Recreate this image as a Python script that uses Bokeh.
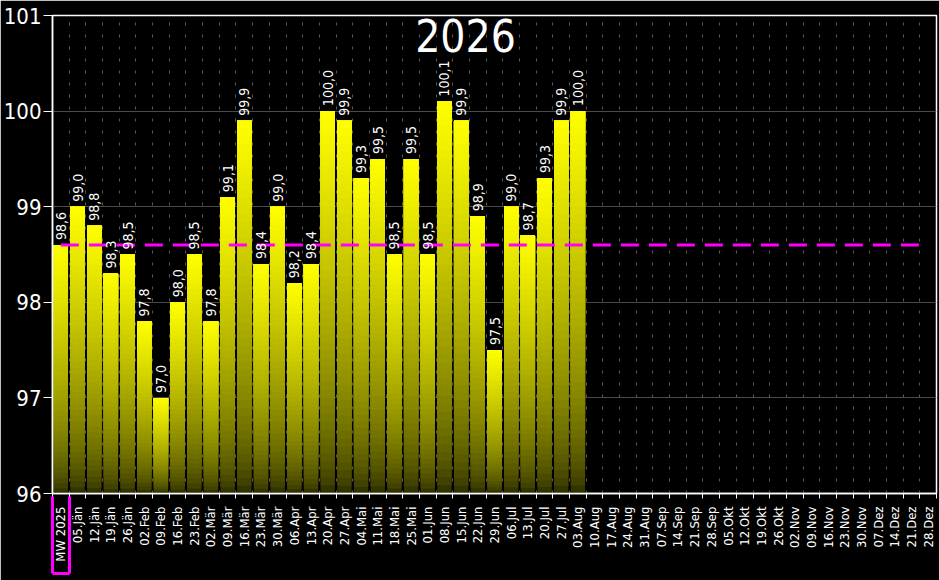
import math
from bokeh.plotting import figure
from bokeh.models import ColumnDataSource, FixedTicker, Range1d, Label, LinearAxis
from bokeh.embed import file_html
from bokeh.resources import INLINE
from bokeh.core.properties import value

# ---------------- data ----------------
title_text = "2026"
week_labels = [
    "MW 2025", "05.Jän", "12.Jän", "19.Jän", "26.Jän", "02.Feb", "09.Feb", "16.Feb", "23.Feb",
    "02.Mär", "09.Mär", "16.Mär", "23.Mär", "30.Mär", "06.Apr", "13.Apr", "20.Apr", "27.Apr",
    "04.Mai", "11.Mai", "18.Mai", "25.Mai", "01.Jun", "08.Jun", "15.Jun", "22.Jun", "29.Jun",
    "06.Jul", "13.Jul", "20.Jul", "27.Jul", "03.Aug", "10.Aug", "17.Aug", "24.Aug", "31.Aug",
    "07.Sep", "14.Sep", "21.Sep", "28.Sep", "05.Okt", "12.Okt", "19.Okt", "26.Okt", "02.Nov",
    "09.Nov", "16.Nov", "23.Nov", "30.Nov", "07.Dez", "14.Dez", "21.Dez", "28.Dez",
]
bar_values = [
    98.6, 99.0, 98.8, 98.3, 98.5, 97.8, 97.0, 98.0, 98.5, 97.8, 99.1, 99.9, 98.4, 99.0,
    98.2, 98.4, 100.0, 99.9, 99.3, 99.5, 98.5, 99.5, 98.5, 100.1, 99.9, 98.9, 97.5, 99.0,
    98.7, 99.3, 99.9, 100.0,
]
y_ticks = [96, 97, 98, 99, 100, 101]
y_min, y_max = 96, 101

# ---------------- styles ----------------
FONT = "DejaVu Sans Condensed"
BAR_W = 0.86
TOP_RGB = (255, 255, 0)
BOT_RGB = (38, 38, 0)
NSLICE = 48
MAGENTA = "#ff00ff"

n = len(week_labels)
idx = list(range(n))

p = figure(
    width=939, height=580,
    x_range=Range1d(-0.5, n - 0.5), y_range=Range1d(y_min, y_max),
    output_backend="svg", toolbar_location=None,
    min_border_left=49, min_border_right=3, min_border_top=15, min_border_bottom=87,
    background_fill_color="black", border_fill_color="black",
)
p.outline_line_color = "white"
p.outline_line_width = 1.5

# gradient bars (stacked slices, each from slice bottom to the bar's value)
left, right, bottom, top, color = [], [], [], [], []
for i, v in enumerate(bar_values):
    for k in range(NSLICE):
        f = ((k + 0.5) / NSLICE) ** 0.6
        rgb = tuple(int(round(b + (t - b) * f)) for b, t in zip(BOT_RGB, TOP_RGB))
        left.append(idx[i] - BAR_W / 2)
        right.append(idx[i] + BAR_W / 2)
        bottom.append(y_min + (v - y_min) * k / NSLICE)
        top.append(v)
        color.append("#%02x%02x%02x" % rgb)
bars = ColumnDataSource(dict(left=left, right=right, bottom=bottom, top=top, color=color))
p.quad(left="left", right="right", bottom="bottom", top="top", fill_color="color",
       line_color=None, source=bars)

# reference (MW 2025) dashed line
p.line(x=[idx[0], idx[-1]], y=[bar_values[0], bar_values[0]], line_color=MAGENTA,
       line_width=3, line_dash="18 10")

# value labels
val_src = ColumnDataSource(dict(
    x=idx[:len(bar_values)], y=bar_values,
    t=[("%.1f" % v).replace(".", ",") for v in bar_values],
))
p.text(x="x", y="y", text="t", source=val_src, angle=math.pi / 2,
       text_align="left", text_baseline="middle", x_offset=0, y_offset=-5,
       text_color="white", text_font=value(FONT), text_font_size="14px")

# title
p.add_layout(Label(x=413, y=458, x_units="screen", y_units="screen", text=title_text,
                   text_align="center", text_baseline="middle", text_color="white",
                   text_font=FONT, text_font_size="44px"))

# x axis
p.xaxis.ticker = FixedTicker(ticks=idx, minor_ticks=[i - 0.5 for i in range(n + 1)])
p.xaxis.major_label_overrides = {i: lab for i, lab in enumerate(week_labels)}
p.xaxis.major_label_orientation = math.pi / 2
p.xaxis.major_label_text_color = "white"
p.xaxis.major_label_text_font = FONT
p.xaxis.major_label_text_font_size = "13px"
p.xaxis.major_label_standoff = 8
p.xaxis.major_tick_out = 0
p.xaxis.major_tick_in = 0
p.xaxis.minor_tick_out = 5
p.xaxis.minor_tick_in = 0
p.xaxis.minor_tick_line_color = "white"
p.xaxis.axis_line_color = "white"
p.xaxis.axis_line_width = 1.5
p.xaxis.axis_label = " "
p.xaxis.axis_label_standoff = 0
p.xaxis.axis_label_text_font_size = "6px"

# magenta frame around the first category label (drawn by a bounded axis below)
box_edges = [idx[0] - 0.5, idx[0] + 0.5]
box_axis = LinearAxis(
    ticker=FixedTicker(ticks=box_edges, minor_ticks=[]),
    bounds=(box_edges[0], box_edges[1]),
    axis_line_color=MAGENTA, axis_line_width=3,
    major_tick_line_color=MAGENTA, major_tick_line_width=3,
    major_tick_in=77, major_tick_out=0,
    minor_tick_line_color=None,
    major_label_overrides={e: "" for e in box_edges},
    major_label_text_color=None, major_label_text_font_size="1px",
    major_label_standoff=0,
)
p.add_layout(box_axis, "below")

# y axis
p.yaxis.ticker = FixedTicker(ticks=y_ticks, minor_ticks=[])
p.yaxis.major_label_text_color = "white"
p.yaxis.major_label_text_font = FONT
p.yaxis.major_label_text_font_size = "22px"
p.yaxis.major_label_standoff = 2
p.yaxis.major_tick_out = 9
p.yaxis.major_tick_in = 0
p.yaxis.major_tick_line_color = "white"
p.yaxis.axis_line_color = "white"
p.yaxis.axis_line_width = 1.5

# grids
p.ygrid.grid_line_color = "#4a4a4a"
p.ygrid.grid_line_width = 1
p.xgrid.grid_line_color = None
p.xgrid.minor_grid_line_color = "#5a5a5a"
p.xgrid.minor_grid_line_dash = "3 9"
p.xgrid.minor_grid_line_width = 1

html = file_html(p, INLINE, title="2026")
html = html.replace("<body>", '<body style="background-color:#000000;">', 1)
open("out.html", "w").write(html)
